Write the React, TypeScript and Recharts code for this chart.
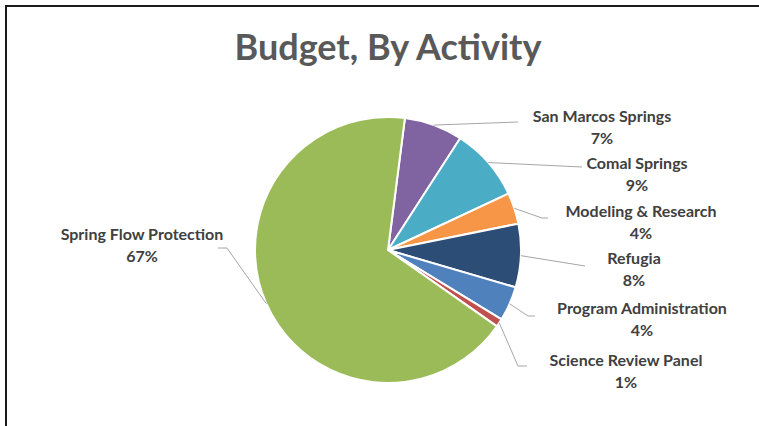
import React from 'react';
import { PieChart, Pie, Cell } from 'recharts';

const categories = [
  'San Marcos Springs',
  'Comal Springs',
  'Modeling & Research',
  'Refugia',
  'Program Administration',
  'Science Review Panel',
  'Spring Flow Protection',
];
const budgetShare = [7.1, 8.9, 3.8, 7.7, 4.2, 1.0, 67.3];
const sliceColors = ['#8064A2', '#4BACC6', '#F79646', '#2C4D75', '#4F81BD', '#C0504D', '#9BBB59'];

const data = categories.map((name, i) => ({ name, value: budgetShare[i] }));

const W = 759;
const H = 426;
const CX = 388;
const CY = 250;
const R = 133;

// label layout relative to pie centre: text centre, optional elbow, line end
const labelLayout = [
  { tx: 214, ty: -135, pts: [[130, -128]] },
  { tx: 249, ty: -88, pts: [[194, -83]] },
  { tx: 253, ty: -40, pts: [[154, -32], [160, -32]] },
  { tx: 246, ty: 7, pts: [[197, 16]] },
  { tx: 254, ty: 57, pts: [[140, 66], [147, 66]] },
  { tx: 238, ty: 109, pts: [[130, 116], [139, 116]] },
  { tx: -246, ty: -17, pts: [[-161, -2], [-170, -2]] },
];

const RAD = Math.PI / 180;
const labelFont = { fontFamily: 'Lato, sans-serif', fontWeight: 700, fontSize: 16 };

const renderLabel = (props: any) => {
  const { cx, cy, midAngle, outerRadius, index, name, percent } = props;
  const lay = labelLayout[index];
  const sx = cx + outerRadius * Math.cos(-midAngle * RAD);
  const sy = cy + outerRadius * Math.sin(-midAngle * RAD);
  const points = [[sx, sy], ...lay.pts.map(([x, y]) => [cx + x, cy + y])]
    .map((p) => p.join(','))
    .join(' ');
  const tx = cx + lay.tx;
  const ty = cy + lay.ty;
  return (
    <g key={`lab-${index}`}>
      <polyline points={points} fill="none" stroke="#A6A6A6" strokeWidth={1} />
      <text x={tx} y={ty} textAnchor="middle" dominantBaseline="central" fill="#404040" style={labelFont}>
        {name}
      </text>
      <text x={tx} y={ty + 22} textAnchor="middle" dominantBaseline="central" fill="#404040" style={labelFont}>
        {`${Math.round(percent * 100)}%`}
      </text>
    </g>
  );
};

export default function App() {
  return (
    <div style={{ position: 'absolute', left: 0, top: 0, width: W, height: H, background: '#fff', overflow: 'hidden' }}>
      <div
        style={{
          position: 'absolute',
          left: 5,
          top: 5,
          width: W + 20,
          height: H + 20,
          border: '2px solid #1a1a1a',
          boxSizing: 'border-box',
        }}
      />
      <svg width={W} height={H} style={{ position: 'absolute', left: 0, top: 0 }}>
        <text
          x={CX}
          y={60}
          textAnchor="middle"
          fill="#595959"
          style={{ fontFamily: 'Lato, sans-serif', fontWeight: 700, fontSize: 36 }}
        >
          Budget, By Activity
        </text>
      </svg>
      <div style={{ position: 'absolute', left: 0, top: 0 }}>
        <PieChart width={W} height={H} margin={{ top: 0, right: 0, bottom: 0, left: 0 }}>
          <Pie
            data={data}
            dataKey="value"
            nameKey="name"
            cx={CX}
            cy={CY}
            outerRadius={R}
            startAngle={82.7}
            endAngle={-277.3}
            stroke="#fff"
            strokeWidth={2}
            label={renderLabel}
            labelLine={false}
            isAnimationActive={false}
          >
            {data.map((d, i) => (
              <Cell key={d.name} fill={sliceColors[i]} />
            ))}
          </Pie>
        </PieChart>
      </div>
    </div>
  );
}
